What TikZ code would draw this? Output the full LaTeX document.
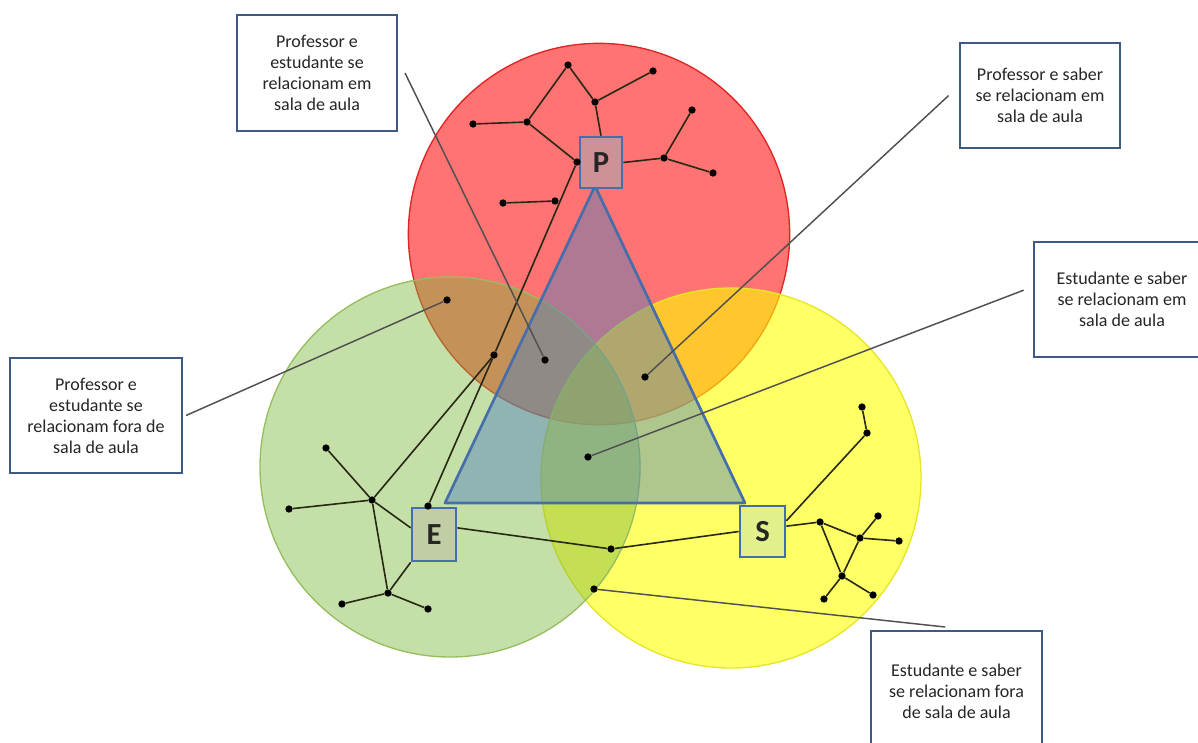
\documentclass[tikz,border=0pt]{standalone}
\usepackage{fontspec}
\setmainfont{Carlito}
\usepackage{tikz}
\definecolor{redzone}{RGB}{255,0,0}
\definecolor{redrim}{RGB}{225,35,35}
\definecolor{greenzone}{RGB}{125,185,60}
\definecolor{greenrim}{RGB}{150,190,95}
\definecolor{yellowzone}{RGB}{255,255,0}
\definecolor{yellowrim}{RGB}{230,230,40}
\definecolor{trifill}{RGB}{79,129,189}
\definecolor{tririm}{RGB}{70,110,170}
\definecolor{boxrim}{RGB}{60,90,130}
\definecolor{netline}{RGB}{40,40,20}
\definecolor{leadline}{RGB}{80,80,80}
\definecolor{pfill}{RGB}{205,145,150}
\definecolor{efill}{RGB}{192,205,165}
\definecolor{sfill}{RGB}{226,240,140}

\begin{document}
\begin{tikzpicture}[
  x=0.75pt, y=-0.75pt,
  zone/.style={line width=1pt},
  letter/.style={draw=tririm, line width=2pt, inner sep=0pt,
                 font=\fontsize{23}{25}\selectfont\bfseries, text=black!85},
  note/.style={draw=boxrim, line width=2pt, fill=white, align=center,
               font=\fontsize{13.5}{15.75}\selectfont, text=black!85},
  dot/.style={circle, fill=black, inner sep=0pt, minimum size=5.5pt},
  net/.style={draw=netline, line width=1.2pt},
  lead/.style={draw=leadline, line width=1.1pt}
]
  \useasboundingbox (0,0) rectangle (1198,742);
  \clip (0,0) rectangle (1198,742);

  % the three zones
  \filldraw[zone, fill=redzone, fill opacity=0.55, draw=redrim] (599,234) circle[radius=143pt];
  \filldraw[zone, fill=yellowzone, fill opacity=0.6, draw=yellowrim] (731,478) circle[radius=142.5pt];
  \filldraw[zone, fill=greenzone, fill opacity=0.45, draw=greenrim] (450,467) circle[radius=142.5pt];

  % didactic triangle
  \filldraw[fill=trifill, fill opacity=0.45, draw=tririm, line width=2pt, line join=round]
    (595,186) -- (445,503) -- (745,503) -- cycle;

  % P, E, S
  \node[letter, fill=pfill, minimum width=31.5pt, minimum height=38.25pt] (P) at (601,162.5) {P};
  \node[letter, fill=efill, minimum width=33pt, minimum height=39.75pt] (E) at (434,534.5) {E};
  \node[letter, fill=sfill, minimum width=33.75pt, minimum height=38.25pt] (S) at (762.5,531.5) {S};

  % network points
  \foreach \n/\x/\y in {ra/473/124, rb/527/122, rc/568/65, rd/595/102, re/653/71,
                        rf/664/158, rg/692/110, rh/713/173, ri/503/203, rj/555/201,
                        rk/577/162, ma/494/355,
                        ga/372/500, gb/326/448, gc/289/509, gd/388/593, ge/342/604,
                        gf/428/609, gg/428/506, gh/611/549,
                        ya/867/433, yb/862/407, yc/820/522, yd/860/538, ye/878/516,
                        yf/899/541, yg/842/576, yh/824/599, yi/873/595,
                        la/545/360, lb/645/377, lc/588/457, ld/447/300, le/594/589}
    \node[dot] (\n) at (\x,\y) {};

  % links
  \foreach \a/\b in {ra/rb, rb/rc, rc/rd, rd/re, rb/rk, rf/rg, rf/rh, ri/rj,
                     rk/ma, ma/ga, ma/gg, ga/gb, ga/gc, ga/gd, gd/ge, gd/gf,
                     ya/yb, yc/yd, yd/ye, yd/yf, yd/yg, yc/yg, yg/yh, yg/yi}
    \draw[net] (\a) -- (\b);
  \draw[net] (rd) -- (P.north);
  \draw[net] (P.east) -- (rf);
  \draw[net] (ga) -- ([yshift=5pt]E.west);
  \draw[net] (gd) -- (E.south west);
  \draw[net] ([yshift=5pt]E.east) -- (gh);
  \draw[net] (gh) -- (S.west);
  \draw[net] ([yshift=8pt]S.east) -- (ya);
  \draw[net] ([yshift=4pt]S.east) -- (yc);

  % notes
  \node[note, minimum width=120pt, minimum height=87pt] (t1) at (317,73)
    {Professor e\\estudante se\\relacionam em\\sala de aula};
  \node[note, minimum width=120pt, minimum height=78.75pt] (t2) at (1040,95.5)
    {Professor e saber\\se relacionam em\\sala de aula};
  \node[note, minimum width=132pt, minimum height=86.25pt] (t3) at (1122,299.5)
    {Estudante e saber\\se relacionam em\\sala de aula};
  \node[note, minimum width=129pt, minimum height=86.25pt] (t4) at (96,415.5)
    {Professor e\\estudante se\\relacionam fora de\\sala de aula};
  \node[note, minimum width=128.25pt, minimum height=90pt] (t5) at (956.5,691)
    {Estudante e saber\\se relacionam fora\\de sala de aula};

  \draw[lead] ([xshift=5pt]t1.east) -- (la);
  \draw[lead] ([xshift=-7.5pt]t2.west) -- (lb);
  \draw[lead] ([shift={(-6.75pt,7pt)}]t3.west) -- (lc);
  \draw[lead] ([xshift=2pt]t4.east) -- (ld);
  \draw[lead] ([shift={(-8.5pt,2pt)}]t5.north) -- (le);
\end{tikzpicture}
\end{document}
